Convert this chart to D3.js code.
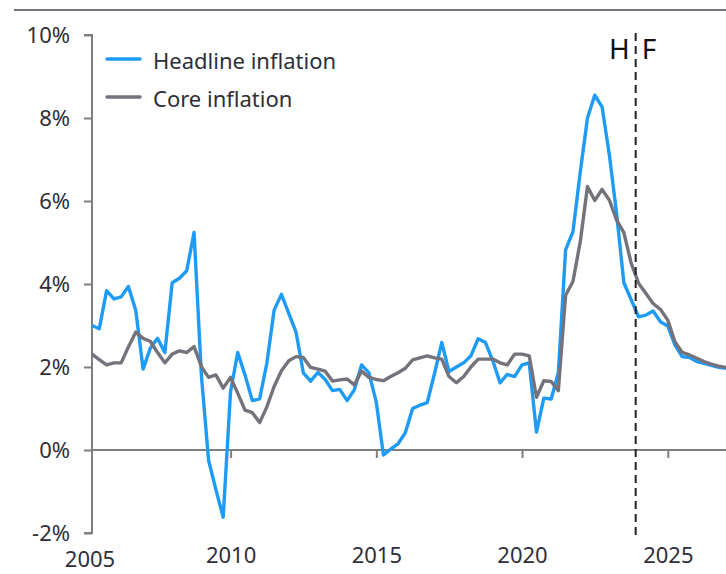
<!DOCTYPE html>
<html>
<head>
<meta charset="utf-8">
<script src="https://cdn.jsdelivr.net/npm/d3@7"></script>
<style>
  html, body { margin: 0; padding: 0; background: #fff; }
  svg { display: block; }
  text { font-family: "Noto Sans", "Open Sans", sans-serif; }
</style>
</head>
<body>
<svg id="chart" width="726" height="574"></svg>
<script>
// ---- Data (quarterly, y/y %, 2005Q1 .. 2026Q4) ----
const startYear = 2005;
const seriesNames = ["Headline inflation", "Core inflation"];
const headline = [
  3.00, 2.92, 3.84, 3.64, 3.69, 3.94, 3.37, 1.95, 2.45, 2.69, 2.35, 4.03,
  4.14, 4.32, 5.24, 1.80, -0.25, -0.95, -1.62, 1.40, 2.35, 1.81, 1.19, 1.23,
  2.09, 3.37, 3.75, 3.29, 2.84, 1.86, 1.66, 1.87, 1.70, 1.43, 1.46, 1.19,
  1.45, 2.05, 1.86, 1.16, -0.12, 0.02, 0.15, 0.42, 1.00, 1.08, 1.14, 1.85,
  2.59, 1.89, 2.00, 2.10, 2.27, 2.68, 2.59, 2.15, 1.62, 1.82, 1.77, 2.05,
  2.10, 0.43, 1.25, 1.23, 1.86, 4.82, 5.26, 6.70, 8.00, 8.55, 8.27, 7.10,
  5.70, 4.03, 3.62, 3.21, 3.25, 3.35, 3.09, 2.99, 2.53, 2.25, 2.23, 2.13,
  2.09, 2.04, 1.99, 1.97
];
const core = [
  2.31, 2.18, 2.05, 2.10, 2.10, 2.48, 2.84, 2.69, 2.62, 2.35, 2.10, 2.31,
  2.39, 2.35, 2.49, 2.01, 1.75, 1.81, 1.49, 1.75, 1.37, 0.96, 0.90, 0.66,
  1.04, 1.53, 1.91, 2.15, 2.25, 2.23, 1.99, 1.95, 1.90, 1.66, 1.69, 1.71,
  1.57, 1.90, 1.75, 1.70, 1.67, 1.77, 1.86, 1.97, 2.17, 2.22, 2.27, 2.22,
  2.19, 1.77, 1.62, 1.77, 2.00, 2.19, 2.19, 2.19, 2.10, 2.05, 2.31, 2.31,
  2.27, 1.27, 1.67, 1.65, 1.43, 3.73, 4.06, 5.02, 6.35, 6.01, 6.28, 6.02,
  5.54, 5.24, 4.50, 4.02, 3.78, 3.53, 3.39, 3.13, 2.61, 2.35, 2.29, 2.21,
  2.13, 2.07, 2.02, 1.99
];
const yTicks = [-2, 0, 2, 4, 6, 8, 10];
const xTickYears = [2010, 2015, 2020, 2025];
const firstYearLabel = "2005";
const forecastStart = new Date(2023, 10, 25);
const histLabel = "H";
const foreLabel = "F";

// quarter-end dates
const dates = headline.map((_, i) => {
  const q = i % 4, y = startYear + Math.floor(i / 4);
  return new Date(y, q * 3 + 3, 0);
});

const colors = { headline: "#1e9bf5", core: "#74737c" };
const axisColor = "#7f7f7f";
const textColor = "#2e2e38";
const fs = 22;

const svg = d3.select("#chart");

const x = d3.scaleTime().domain([dates[0], dates[dates.length - 1]]).range([92, 726]);
const y = d3.scaleLinear().domain([-2, 10]).range([533, 35]);

// top rule
svg.append("line").attr("x1", 14).attr("x2", 726).attr("y1", 10).attr("y2", 10)
  .attr("stroke", "#75737c").attr("stroke-width", 2.2);

// y axis
const yAxis = d3.axisLeft(y).tickValues(yTicks).tickFormat(d => d + "%").tickSize(8).tickPadding(14);
const gy = svg.append("g").attr("transform", "translate(92,0)").call(yAxis);
gy.select(".domain").attr("stroke", axisColor).attr("stroke-width", 2).attr("d", `M-8,${y(10)}H0V${y(-2)}H-8`);
gy.selectAll(".tick line").attr("stroke", axisColor).attr("stroke-width", 2);
gy.selectAll(".tick text").attr("fill", textColor).attr("font-size", fs)
  .attr("font-family", "'Noto Sans', sans-serif");

// zero line
svg.append("line").attr("x1", 92).attr("x2", 726).attr("y1", y(0)).attr("y2", y(0))
  .attr("stroke", axisColor).attr("stroke-width", 2);

// x axis ticks (below zero line)
const xAxis = d3.axisBottom(x)
  .tickValues(xTickYears.map(yr => new Date(yr, 0, 1)))
  .tickFormat(d3.timeFormat("%Y")).tickSize(8).tickPadding(0);
const gx = svg.append("g").attr("transform", `translate(0,${y(0)})`).call(xAxis);
gx.select(".domain").remove();
gx.selectAll(".tick line").attr("stroke", axisColor).attr("stroke-width", 2);
gx.selectAll(".tick text").attr("fill", textColor).attr("font-size", fs)
  .attr("font-family", "'Noto Sans', sans-serif")
  .attr("y", 0).attr("dy", 0).attr("transform", "translate(0,113)");

svg.append("text").attr("x", 90).attr("y", 567).attr("text-anchor", "middle")
  .attr("fill", textColor).attr("font-size", fs).text(firstYearLabel);

// lines
const line = d3.line().x((d, i) => x(dates[i])).y(d => y(d));
svg.append("path").datum(headline).attr("d", line).attr("fill", "none")
  .attr("stroke", colors.headline).attr("stroke-width", 3.4).attr("stroke-linejoin", "round");
svg.append("path").datum(core).attr("d", line).attr("fill", "none")
  .attr("stroke", colors.core).attr("stroke-width", 3.4).attr("stroke-linejoin", "round");

// forecast divider
const fx = x(forecastStart);
svg.append("line").attr("x1", fx).attr("x2", fx).attr("y1", 33).attr("y2", 539)
  .attr("stroke", "#222228").attr("stroke-width", 2).attr("stroke-dasharray", "8,5");
svg.append("text").attr("x", fx - 6).attr("y", 59).attr("text-anchor", "end")
  .attr("fill", "#111").attr("font-size", 28).text(histLabel);
svg.append("text").attr("x", fx + 6).attr("y", 59).attr("text-anchor", "start")
  .attr("fill", "#111").attr("font-size", 28).text(foreLabel);

// legend
const legend = svg.append("g");
[[seriesNames[0], colors.headline, 59], [seriesNames[1], colors.core, 97]].forEach(([name, c, ly]) => {
  legend.append("line").attr("x1", 107).attr("x2", 140).attr("y1", ly).attr("y2", ly)
    .attr("stroke", c).attr("stroke-width", 3.5).attr("stroke-linecap", "round");
  legend.append("text").attr("x", 153).attr("y", ly + 10).attr("fill", textColor)
    .attr("font-size", fs).text(name);
});
</script>
</body>
</html>
